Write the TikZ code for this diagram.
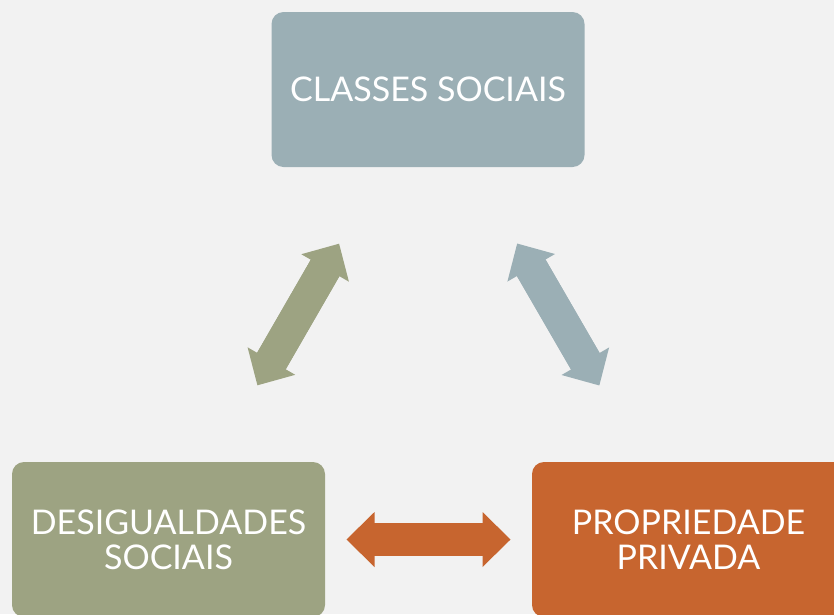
\documentclass[tikz,border=0pt]{standalone}
\usepackage{fontspec}
\setmainfont{Lato}
\usetikzlibrary{arrows.meta}
\definecolor{fundo}{HTML}{F2F2F2}
\definecolor{azulcinza}{HTML}{9BAFB5}
\definecolor{oliva}{HTML}{9DA382}
\definecolor{laranja}{HTML}{C7652F}
\tikzset{
    caixa/.style={rounded corners=12pt, minimum width=313pt, minimum height=155pt,
        inner sep=0pt, align=center, text=white, font=\fontsize{34}{35}\selectfont},
    seta/.style={line width=33pt,
        {Triangle[width=55pt,length=28pt,line width=0pt]}-{Triangle[width=55pt,length=28pt,line width=0pt]},
        shorten <=178pt, shorten >=178pt,
        postaction={draw, arrows=-, shorten <=196pt, shorten >=196pt}}
}
\begin{document}
\begin{tikzpicture}[x=1pt, y=-1pt]
        % background and frame
        \fill[fundo] (0,0) rectangle (834,614);
        \useasboundingbox (0,0) rectangle (834,614);
        % boxes
        \node[caixa, fill=azulcinza] (classes) at (428,89.5) {CLASSES SOCIAIS};
        \node[caixa, fill=oliva] (desig) at (168.5,539.5) {DESIGUALDADES\\SOCIAIS};
        \node[caixa, fill=laranja] (prop) at (688.5,539.5) {PROPRIEDADE\\PRIVADA};
        % double arrows between boxes
        \draw[seta, oliva] (desig.center) -- (classes.center);
        \draw[seta, azulcinza] (classes.center) -- (prop.center);
        \draw[seta, laranja] (desig.center) -- (prop.center);
    \end{tikzpicture}
\end{document}
